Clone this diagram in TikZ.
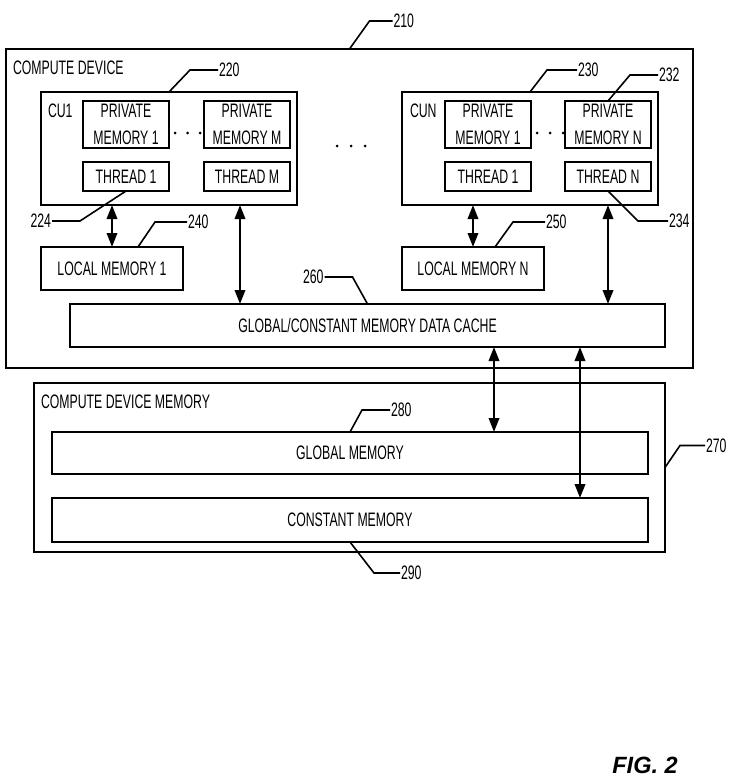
\documentclass[tikz,border=0pt]{standalone}
\usepackage{fontspec}
\setmainfont[FakeStretch=0.63]{Liberation Sans}
\newfontfamily\figfont{Liberation Sans}
\usetikzlibrary{positioning,calc,arrows.meta}

\begin{document}
\begin{tikzpicture}[x=1pt,y=-1pt,
        every node/.style = {inner sep=0pt,outer sep=0pt,font=\fontsize{19.5}{27}\selectfont},
        box/.style = {draw,rectangle,line width=2pt,align=center},
        pmbox/.style = {box,minimum width=86pt,minimum height=47pt},
        thbox/.style = {box,minimum width=86pt,minimum height=29pt},
        lead/.style = {line width=1.6pt},
        link/.style = {line width=2pt,{Triangle[length=14pt,width=10.5pt]}-{Triangle[length=14pt,width=10.5pt]}},
        ]
        \useasboundingbox (0,0) rectangle (735,784);
        % compute device
        \node[box,minimum width=687pt,minimum height=319pt] (dev) at (349.5,208.5) {};
        \node[anchor=west] (dev-title) at (13,68) {COMPUTE DEVICE};
        \node[box,minimum width=256pt,minimum height=113pt] (cu-1) at (169,148.5) {};
        \node[anchor=west] (cu-1-title) at (48,111) {CU1};
        \node[pmbox] (pm-1-1) at (126,124.5) {PRIVATE\\MEMORY 1};
        \node[pmbox] (pm-1-m) [right = 35pt of pm-1-1] {PRIVATE\\MEMORY M};
        \node[thbox] (th-1-1) [below = 14pt of pm-1-1] {THREAD 1};
        \node[thbox] (th-1-m) [below = 14pt of pm-1-m] {THREAD M};
        \node[box,minimum width=256pt,minimum height=113pt] (cu-n) at (530,148.5) {};
        \node[anchor=west] (cu-n-title) at (410,111) {CUN};
        \node[pmbox] (pm-n-1) at (488,124.5) {PRIVATE\\MEMORY 1};
        \node[pmbox] (pm-n-n) [right = 34pt of pm-n-1] {PRIVATE\\MEMORY N};
        \node[thbox] (th-n-1) [below = 14pt of pm-n-1] {THREAD 1};
        \node[thbox] (th-n-n) [below = 14pt of pm-n-n] {THREAD N};
        \node[box,minimum width=142pt,minimum height=43pt] (lm-1) at (112,268.5) {LOCAL MEMORY 1};
        \node[box,minimum width=142pt,minimum height=43pt] (lm-n) at (473,268.5) {LOCAL MEMORY N};
        \node[box,minimum width=595pt,minimum height=43pt] (cache) at (367.5,325.5) {GLOBAL/CONSTANT MEMORY DATA CACHE};
        \fill (175,133) circle (1.5pt) (187.5,133) circle (1.5pt) (200,133) circle (1.5pt);
        \fill (537,133) circle (1.5pt) (550,133) circle (1.5pt) (563,133) circle (1.5pt);
        \fill (337,146) circle (1.5pt) (351,146) circle (1.5pt) (365,146) circle (1.5pt);
        % compute device memory
        \node[box,minimum width=631pt,minimum height=169pt] (cdm) at (349.5,467.5) {};
        \node[anchor=west] (cdm-title) at (41,402) {COMPUTE DEVICE MEMORY};
        \node[box,minimum width=596pt,minimum height=42pt] (gm) at (350,453) {GLOBAL MEMORY};
        \node[box,minimum width=596pt,minimum height=44pt] (cm) at (350,520) {CONSTANT MEMORY};
        % arrows
        \coordinate (col-2) at (240,0);
        \coordinate (col-5) at (494,0);
        \coordinate (col-6) at (580,0);
        \draw[link] (lm-1.north |- cu-1.south) -- (lm-1.north);
        \draw[link] (col-2 |- cu-1.south) -- (col-2 |- cache.north);
        \draw[link] (lm-n.north |- cu-n.south) -- (lm-n.north);
        \draw[link] (th-n-n.south |- cu-n.south) -- (th-n-n.south |- cache.north);
        \draw[link] (col-5 |- cache.south) -- (col-5 |- gm.north);
        \draw[link] (col-6 |- cache.south) -- (col-6 |- cm.north);
        % reference numbers
        \draw[lead] (dev.north) -- ++(20,-28) -- ++(23,0) node[right=1pt] (n210) {210};
        \draw[lead] (cu-1.north) -- ++(21,-22) -- ++(28,0) node[right=1pt] (n220) {220};
        \draw[lead] (th-1-1.south) -- ++(-46,30) -- ++(-28,0) node[left=1pt] (n224) {224};
        \draw[lead] ([xshift=26pt]lm-1.north) -- ++(17,-25) -- ++(32,0) node[right=1pt] (n240) {240};
        \draw[lead] (cu-n.north) -- ++(17,-22) -- ++(30,0) node[right=1pt] (n230) {230};
        \draw[lead] (pm-n-n.north) -- ++(22,-26) -- ++(28,0) node[right=1pt] (n232) {232};
        \draw[lead] (th-n-n.south) -- ++(30,30) -- ++(30,0) node[right=1pt] (n234) {234};
        \draw[lead] ([xshift=22pt]lm-n.north) -- ++(18,-25) -- ++(32,0) node[right=1pt] (n250) {250};
        \draw[lead] (cache.north) -- ++(-15,-27) -- ++(-28,0) node[left=1pt] (n260) {260};
        \draw[lead] (gm.north) -- ++(12,-22) -- ++(28,0) node[right=1pt] (n280) {280};
        \draw[lead] (cdm.east) -- ++(15,-22) -- ++(25,0) node[right=1pt] (n270) {270};
        \draw[lead] (cm.south) -- ++(24,31) -- ++(26,0) node[right=1pt] (n290) {290};
        \node (fig) at (645,765) {\figfont\bfseries\itshape\fontsize{23.5}{24}\selectfont FIG. 2};
    \end{tikzpicture}
\end{document}
